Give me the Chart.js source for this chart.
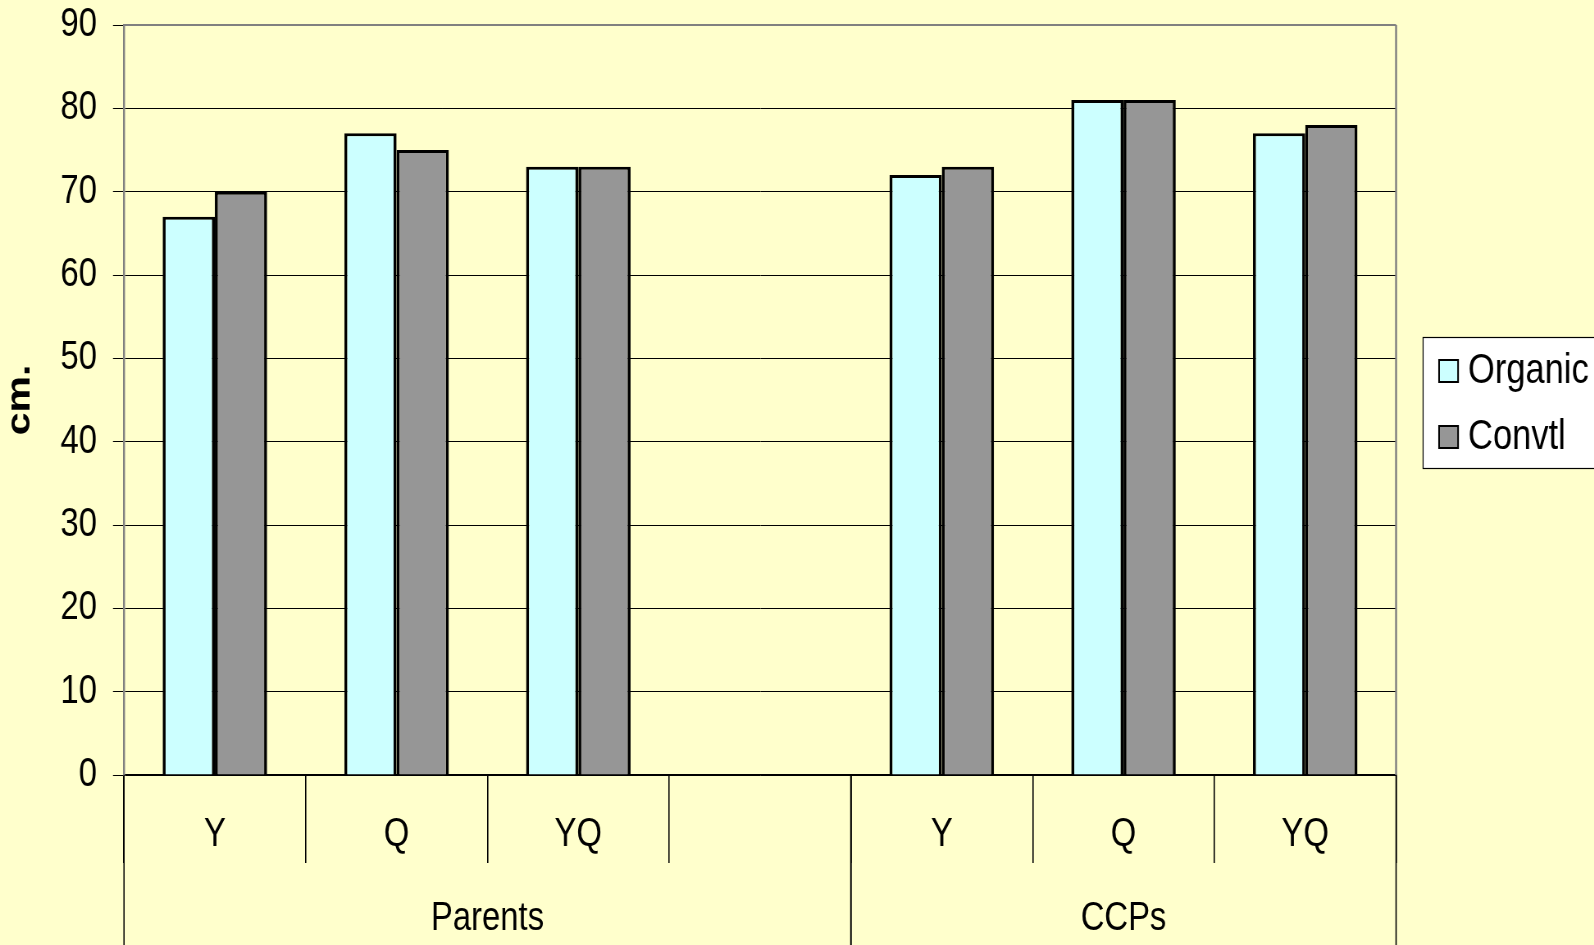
<!DOCTYPE html>
<html lang="en">
<head>
    <meta charset="UTF-8">
    <title>cm. - Organic vs Convtl</title>
    <script src="https://cdn.jsdelivr.net/npm/chart.js"></script>
    <style>
        body {
            margin: 0;
            padding: 0;
            background-color: #ffffcc;
            overflow: hidden;
        }
        /* the original chart is squeezed sideways, narrow lettering included */
        #wrap {
            width: 1944px;
            height: 945px;
            transform: scaleX(0.82);
            transform-origin: 0 0;
        }
    </style>
</head>
<body>
    <div id="wrap">
        <canvas id="heightChart" width="1944" height="945"></canvas>
    </div>

    <script>
        // data
        const categories = ['Y', 'Q', 'YQ', '', 'Y', 'Q', 'YQ'];
        const groupLabels = ['Parents', 'CCPs'];
        const groupSpans = [4, 3];
        const organic = [67, 77, 73, null, 72, 81, 77];
        const convtl = [70, 75, 73, null, 73, 81, 78];
        const yTicks = [0, 10, 20, 30, 40, 50, 60, 70, 80, 90];

        const sx = 0.82; // horizontal squeeze of the page
        const font = "'Liberation Sans', Arial, sans-serif";

        // background, plot frame, group labels and the legend box
        const decor = {
            id: 'decor',
            beforeDraw(chart) {
                const ctx = chart.ctx;
                ctx.save();
                ctx.fillStyle = '#ffffcc';
                ctx.fillRect(0, 0, chart.width, chart.height);
                ctx.restore();
            },
            beforeDatasetsDraw(chart) {
                const { ctx, chartArea: a } = chart;
                ctx.save();
                ctx.strokeStyle = '#808080';
                ctx.lineWidth = 2;
                ctx.beginPath();
                ctx.moveTo(a.left, a.top);
                ctx.lineTo(a.right, a.top);
                ctx.stroke();
                ctx.lineWidth = 2 / sx;
                ctx.beginPath();
                ctx.moveTo(a.right, a.top);
                ctx.lineTo(a.right, a.bottom);
                ctx.stroke();
                ctx.restore();
            },
            afterDraw(chart) {
                const { ctx, chartArea: a } = chart;
                const x = chart.scales.x;
                const half = (x.getPixelForValue(1) - x.getPixelForValue(0)) / 2;

                // second level of the category axis
                ctx.save();
                ctx.strokeStyle = '#000';
                ctx.lineWidth = 1.3 / sx;
                ctx.fillStyle = '#000';
                ctx.font = '40px ' + font;
                ctx.textAlign = 'center';
                ctx.textBaseline = 'middle';
                let start = 0;
                groupLabels.forEach((g, i) => {
                    const end = start + groupSpans[i] - 1;
                    const x0 = x.getPixelForValue(start) - half;
                    const x1 = x.getPixelForValue(end) + half;
                    [x0, x1].forEach(px => {
                        ctx.beginPath();
                        ctx.moveTo(px, a.bottom);
                        ctx.lineTo(px, chart.height);
                        ctx.stroke();
                    });
                    ctx.fillText(g, (x0 + x1) / 2, a.bottom + 144);
                    start = end + 1;
                });
                ctx.restore();

                // legend
                const bx = a.right + 27 / sx;
                const mid = (a.top + a.bottom) / 2 + 3;
                ctx.save();
                ctx.fillStyle = '#fff';
                ctx.strokeStyle = '#000';
                ctx.lineWidth = 1.2;
                ctx.fillRect(bx, mid - 66, chart.width - bx + 5, 132);
                ctx.strokeRect(bx, mid - 65.5, chart.width - bx + 5, 131);
                ctx.font = '42px ' + font;
                ctx.textAlign = 'left';
                ctx.textBaseline = 'middle';
                chart.data.datasets.forEach((ds, i) => {
                    const cy = mid - 32 + i * 66;
                    ctx.fillStyle = ds.backgroundColor;
                    ctx.fillRect(bx + 16 / sx, cy - 11, 19 / sx, 22);
                    ctx.lineWidth = 2;
                    ctx.strokeRect(bx + 16 / sx, cy - 11, 19 / sx, 22);
                    ctx.fillStyle = '#000';
                    ctx.fillText(ds.label, bx + 45 / sx, cy);
                });
                ctx.restore();
            }
        };

        const barBorder = { top: 3, left: 3 / sx, right: 3 / sx, bottom: 0 };

        const chart = new Chart(document.getElementById('heightChart').getContext('2d'), {
            type: 'bar',
            data: {
                labels: categories,
                datasets: [
                    {
                        label: 'Organic',
                        data: organic,
                        backgroundColor: '#ccffff',
                        borderColor: '#000',
                        borderWidth: barBorder
                    },
                    {
                        label: 'Convtl',
                        data: convtl,
                        backgroundColor: '#969696',
                        borderColor: '#000',
                        borderWidth: barBorder
                    }
                ]
            },
            options: {
                responsive: false,
                animation: false,
                layout: {
                    padding: { top: 25, right: 198 / sx, left: 0, bottom: 0 }
                },
                datasets: {
                    bar: { categoryPercentage: 0.575, barPercentage: 1 }
                },
                plugins: {
                    legend: { display: false },
                    tooltip: { enabled: false }
                },
                scales: {
                    x: {
                        type: 'category',
                        offset: true,
                        afterFit(scale) {
                            scale.height = 170;
                            scale.paddingLeft = 0;
                            scale.paddingRight = 0;
                        },
                        grid: {
                            offset: true,
                            drawOnChartArea: false,
                            drawTicks: true,
                            tickLength: 88,
                            lineWidth: 1.3 / sx,
                            tickColor: '#000'
                        },
                        border: { display: true, color: '#000', width: 1.5 },
                        ticks: {
                            color: '#000',
                            padding: -52,
                            maxRotation: 0,
                            autoSkip: false,
                            font: { family: font, size: 40 }
                        }
                    },
                    y: {
                        min: 0,
                        max: 90,
                        afterFit(scale) {
                            scale.width = 124 / sx;
                            scale.paddingTop = 0;
                            scale.paddingBottom = 0;
                        },
                        afterBuildTicks(scale) {
                            scale.ticks = yTicks.map(v => ({ value: v }));
                        },
                        grid: {
                            color: '#000',
                            lineWidth: 1,
                            drawTicks: true,
                            tickLength: 11 / sx,
                            tickColor: '#000'
                        },
                        border: { display: true, color: '#808080', width: 2 / sx },
                        ticks: {
                            color: '#000',
                            padding: 16 / sx,
                            font: { family: font, size: 40 }
                        },
                        title: {
                            display: true,
                            text: 'cm.',
                            color: '#000',
                            padding: 0,
                            font: { family: font, size: 41, weight: 'bold', lineHeight: 1.2 }
                        }
                    }
                }
            },
            plugins: [decor]
        });
    </script>
</body>
</html>
